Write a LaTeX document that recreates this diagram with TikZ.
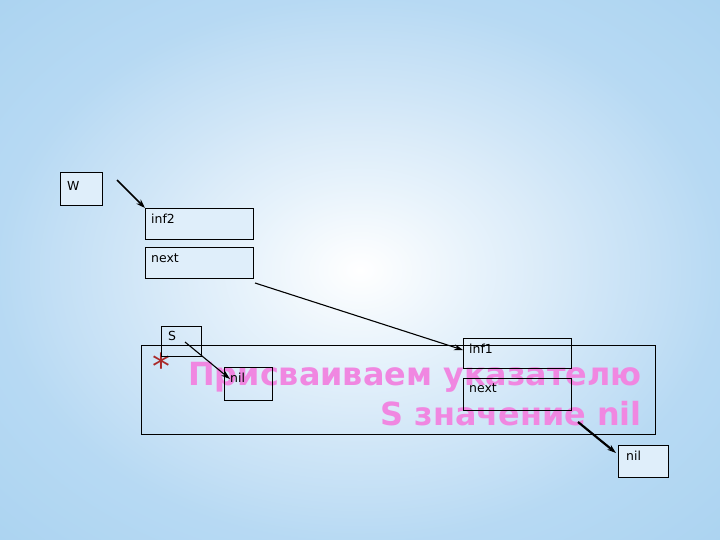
\documentclass[tikz,border=0pt]{standalone}
\usepackage{fontspec}
\setmainfont{DejaVu Sans}
\newfontfamily\boxfont{DejaVu Sans}
\usetikzlibrary{arrows.meta}
\definecolor{bgblue}{RGB}{150,200,238}
\definecolor{pinkt}{RGB}{240,135,225}
\definecolor{starred}{RGB}{170,40,40}
\begin{document}
\begin{tikzpicture}[x=1bp,y=-1bp,
  cell/.style={draw=black,line width=1.2pt,fill=white!70!bgblue,inner sep=0pt,anchor=north west},
  lbl/.style={anchor=north west,inner sep=0pt,font=\boxfont\fontsize{12.5}{13}\selectfont},
  ptr/.style={-{Stealth[length=9pt,width=6pt]},line width=1.1pt}]
\useasboundingbox (0,0) rectangle (720,540);
\shade[inner color=white,outer color=bgblue] (-200,-150) rectangle (920,690);
\shade[inner color=white,outer color=white!30!bgblue,opacity=0.6] (0,0) rectangle (720,540);
% frame
\node[draw=black,line width=0.6pt,minimum width=514bp,minimum height=89bp,anchor=north west,inner sep=0pt] (frame) at (141,345) {};
\node[text=pinkt,font=\bfseries\fontsize{32}{40}\selectfont,align=right,anchor=north east,inner sep=0pt] (title) at (642,362) {Присваиваем указателю\\S значение nil};
\node[text=starred,font=\fontsize{36}{36}\selectfont,inner sep=0pt] (star) at (161,366) {*};
% cells
\node[cell,minimum width=42bp,minimum height=33bp] (W) at (60,172) {};
\node[lbl] (Wl) at (67,181) {W};
\node[cell,minimum width=108bp,minimum height=31bp] (inf2) at (145,208) {};
\node[lbl] (inf2l) at (151,214) {inf2};
\node[cell,minimum width=108bp,minimum height=31bp] (next2) at (145,247) {};
\node[lbl] (next2l) at (151,254) {next};
\node[draw=black,line width=0.6pt,minimum width=40bp,minimum height=30bp,anchor=north west,inner sep=0pt] (S) at (161,326) {};
\node[lbl] (Sl) at (168,331) {S};
\node[cell,minimum width=48bp,minimum height=33bp,fill=none] (nil1) at (224,367) {};
\node[lbl] (nil1l) at (230,373) {nil};
\node[cell,minimum width=108bp,minimum height=30bp,fill=none] (inf1) at (463,338) {};
\node[lbl] (inf1l) at (469,344) {inf1};
\node[cell,minimum width=108bp,minimum height=32bp,fill=none] (next1) at (463,378) {};
\node[lbl] (next1l) at (469,384) {next};
\node[cell,minimum width=50bp,minimum height=32bp] (nil2) at (618,445) {};
\node[lbl] (nil2l) at (626,451) {nil};
% pointers
\coordinate (wst) at (117,180);
\coordinate (nst) at (255,283);
\coordinate (sst) at (185,342);
\coordinate (n1st) at (578,422);
\draw[ptr,line width=1.6pt] (wst) -- (inf2.north west);
\draw[ptr] (nst) -- ([yshift=-12bp]inf1.north west);
\draw[ptr] (sst) -- ([xshift=6bp,yshift=-12bp]nil1.north west);
\draw[ptr,line width=2.2pt] (n1st) -- ([xshift=-2bp,yshift=-8bp]nil2.north west);
\end{tikzpicture}
\end{document}
